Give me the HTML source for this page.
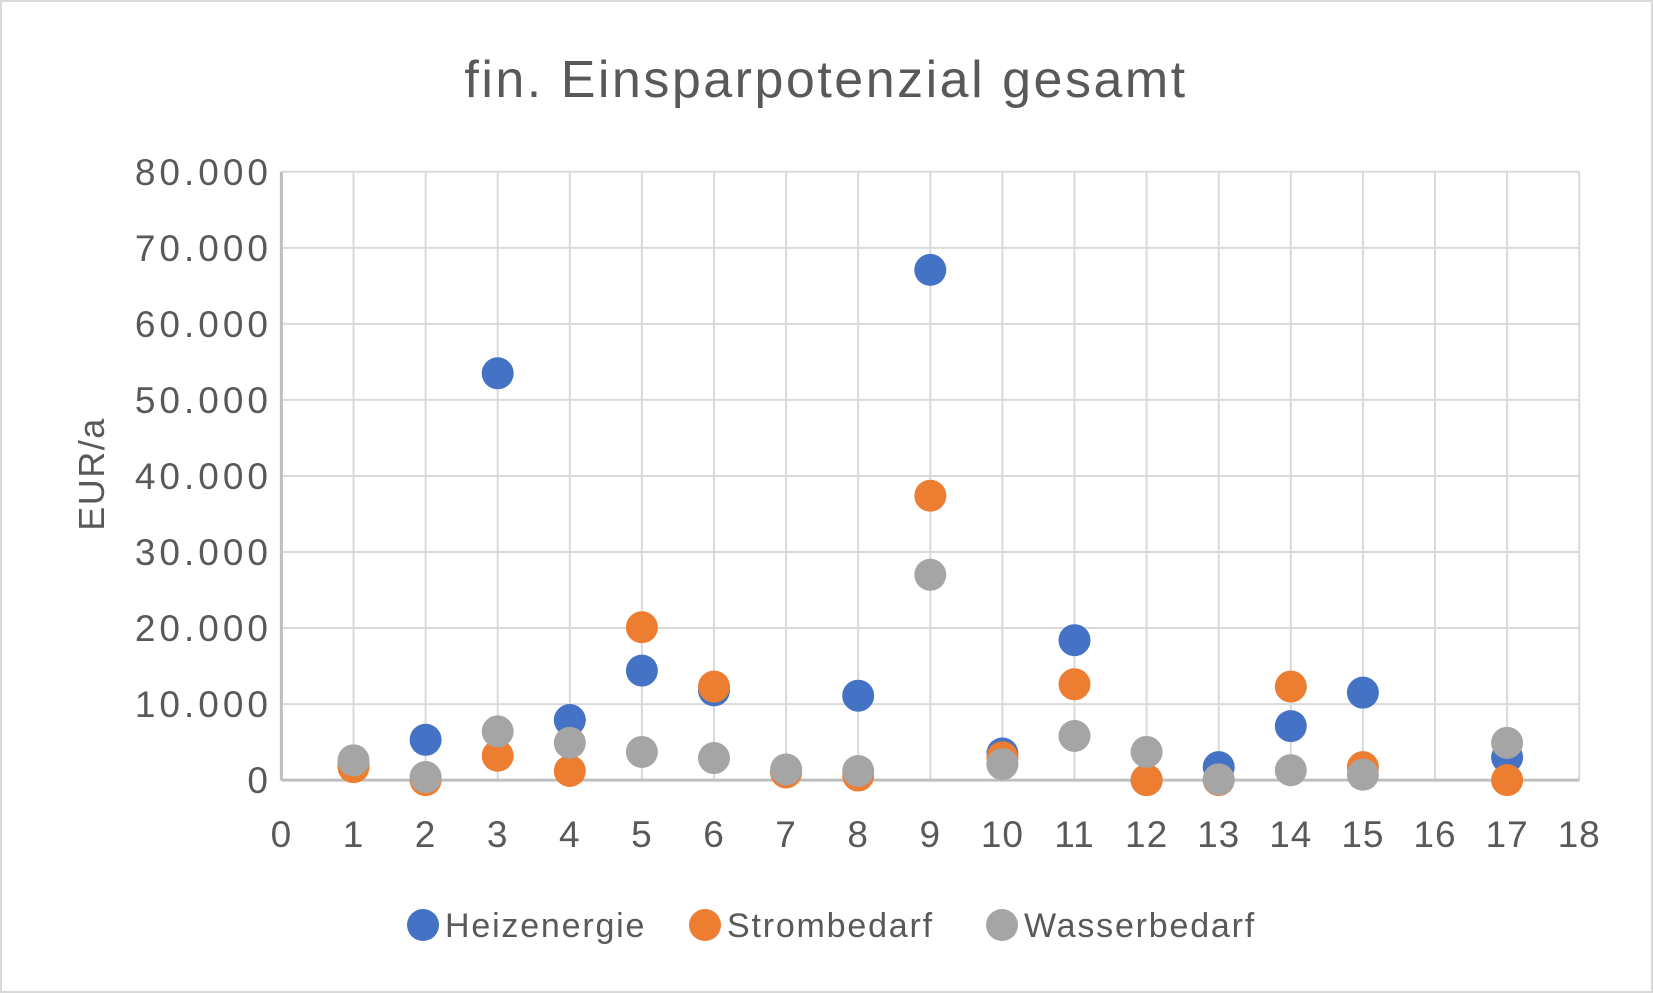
<!DOCTYPE html>
<html><head><meta charset="utf-8"><style>body{margin:0;background:#fff}svg{display:block}text{font-family:"Liberation Sans",sans-serif;fill:#595959}</style></head>
<body>
<svg width="1653" height="993" viewBox="0 0 1653 993" xmlns="http://www.w3.org/2000/svg">
<rect x="1" y="1" width="1651" height="991" fill="#fff" stroke="#d9d9d9" stroke-width="2"/>
<text x="826" y="97" font-size="52" letter-spacing="2.5" text-anchor="middle">fin. Einsparpotenzial gesamt</text>
<g id="grid" stroke="#d9d9d9" stroke-width="2"></g>
<g id="lab"></g>
<g id="pts"></g>
<text transform="translate(104,474) rotate(-90)" font-size="36" letter-spacing="1.5" text-anchor="middle">EUR/a</text>
<circle cx="423" cy="925" r="16" fill="#4472C4"/><text x="445" y="937" font-size="34" letter-spacing="1.8">Heizenergie</text>
<circle cx="705" cy="925" r="16" fill="#ED7D31"/><text x="727" y="937" font-size="34" letter-spacing="1.8">Strombedarf</text>
<circle cx="1002" cy="925" r="16" fill="#A5A5A5"/><text x="1024" y="937" font-size="34" letter-spacing="1.8">Wasserbedarf</text>
</svg>
<script>
const L=281.4,R=1579.2,T=171.8,B=780.1,ux=(R-L)/18,uy=(B-T)/80000;
const X=v=>L+v*ux,Y=v=>B-v*uy,ns="http://www.w3.org/2000/svg";
const g=document.getElementById('grid'),lb=document.getElementById('lab'),p=document.getElementById('pts');
function el(par,t,a,txt){const e=document.createElementNS(ns,t);for(const k in a)e.setAttribute(k,a[k]);if(txt!==undefined)e.textContent=txt;par.appendChild(e);}
for(let i=0;i<=8;i++){const y=Y(i*10000);el(g,'line',{x1:L,x2:R,y1:y,y2:y});el(lb,'text',{x:272,y:y+13,'font-size':37,'letter-spacing':4,'text-anchor':'end'},i==0?'0':(i*10)+'.000');}
for(let i=0;i<=18;i++){const x=X(i);el(g,'line',{x1:x,x2:x,y1:T,y2:B});el(lb,'text',{x:x,y:847,'font-size':37,'letter-spacing':1,'text-anchor':'middle'},String(i));}
el(g,'line',{x1:L,x2:R,y1:B,y2:B,stroke:'#bfbfbf','stroke-width':3});
el(g,'line',{x1:L,x2:L,y1:T,y2:B,stroke:'#bfbfbf','stroke-width':3});
const H={1:2000,2:5300,3:53500,4:7900,5:14400,6:11800,7:1200,8:11100,9:67100,10:3500,11:18400,12:0,13:1700,14:7100,15:11500,17:3000};
const S={1:1700,2:0,3:3200,4:1200,5:20100,6:12300,7:1000,8:600,9:37400,10:3000,11:12600,12:0,13:0,14:12300,15:1700,17:0};
const W={1:2600,2:400,3:6400,4:4900,5:3700,6:2900,7:1400,8:1200,9:27000,10:2100,11:5800,12:3700,13:100,14:1300,15:700,17:4900};
[[H,'#4472C4'],[S,'#ED7D31'],[W,'#A5A5A5']].forEach(([d,c])=>{for(const k in d)el(p,'circle',{cx:X(+k),cy:Y(d[k]),r:16,fill:c});});
</script>
</body></html>
